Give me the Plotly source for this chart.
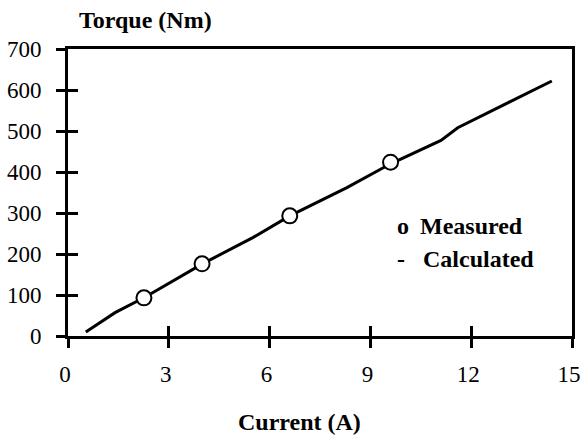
import plotly.graph_objects as go

# Measured torque points
measured_current = [2.26, 3.99, 6.6, 9.6]
measured_torque = [93, 176, 293, 424]

# Calculated torque curve
calc_current = [0.53, 1.4, 2.3, 4.0, 5.5, 6.6, 8.3, 9.6, 11.1, 11.6, 14.4]
calc_torque = [10, 57, 95, 176, 240, 293, 362, 420, 477, 508, 622]

x_ticks = [0, 3, 6, 9, 12, 15]
y_ticks = [0, 100, 200, 300, 400, 500, 600, 700]

FONT = "Liberation Serif, Times New Roman, serif"

fig = go.Figure()
fig.add_trace(
    go.Scatter(
        x=calc_current, y=calc_torque, mode="lines",
        line=dict(color="black", width=3), name="Calculated",
    )
)
fig.add_trace(
    go.Scatter(
        x=measured_current, y=measured_torque, mode="markers",
        marker=dict(symbol="circle", size=15, color="white",
                    line=dict(color="black", width=2)),
        name="Measured",
    )
)

tick_style = dict(showgrid=False, zeroline=False, tickcolor="black", tickwidth=3,
                  automargin=False)
fig.update_layout(
    width=582, height=439,
    margin=dict(l=68, r=10, t=49, b=103),
    plot_bgcolor="white", paper_bgcolor="white",
    showlegend=False,
    font=dict(family=FONT, color="black", size=23),
    xaxis=dict(range=[0, 15], tickvals=x_ticks, ticks="outside", ticklen=9,
               ticklabelstandoff=6, ticklabelshift=-3, mirror=True,
               linecolor="black", linewidth=3, **tick_style),
    yaxis=dict(range=[0, 700], tickvals=y_ticks, ticks="outside", ticklen=9,
               ticklabelstandoff=10, mirror=True,
               linecolor="black", linewidth=3, **tick_style),
    xaxis2=dict(range=[0, 15], tickvals=x_ticks, ticks="inside", ticklen=10,
                showticklabels=False, overlaying="x", showline=False, **tick_style),
    yaxis2=dict(range=[0, 700], tickvals=y_ticks, ticks="inside", ticklen=10,
                showticklabels=False, overlaying="y", showline=False, **tick_style),
)
# empty trace so the overlay axes (inner tick halves) get drawn
fig.add_trace(go.Scatter(x=[None], y=[None], xaxis="x2", yaxis="y2", showlegend=False))

label_font = dict(size=24)
fig.add_annotation(text="<b>Torque (Nm)</b>", xref="paper", yref="paper",
                   x=0.153, y=1.0, yshift=29, showarrow=False, font=label_font,
                   xanchor="center", yanchor="middle")
fig.add_annotation(text="<b>Current (A)</b>", xref="paper", yref="paper",
                   x=0.46, y=0.0, yshift=-86, showarrow=False, font=label_font,
                   xanchor="center", yanchor="middle")
# hand-made key
fig.add_annotation(text="<b>o</b>", xref="x", yref="y", x=9.74, y=268,
                   showarrow=False, xanchor="left", yanchor="middle", font=label_font)
fig.add_annotation(text="<b>Measured</b>", xref="x", yref="y", x=10.43, y=268,
                   showarrow=False, xanchor="left", yanchor="middle", font=label_font)
fig.add_annotation(text="<b>-</b>", xref="x", yref="y", x=9.74, y=188,
                   showarrow=False, xanchor="left", yanchor="middle", font=label_font)
fig.add_annotation(text="<b>Calculated</b>", xref="x", yref="y", x=10.51, y=188,
                   showarrow=False, xanchor="left", yanchor="middle", font=label_font)

# drop the browser's default body margin so the figure fills the window exactly
fig.write_html("out.html", config={"displayModeBar": False},
               post_script="document.body.style.margin = '0px';")
